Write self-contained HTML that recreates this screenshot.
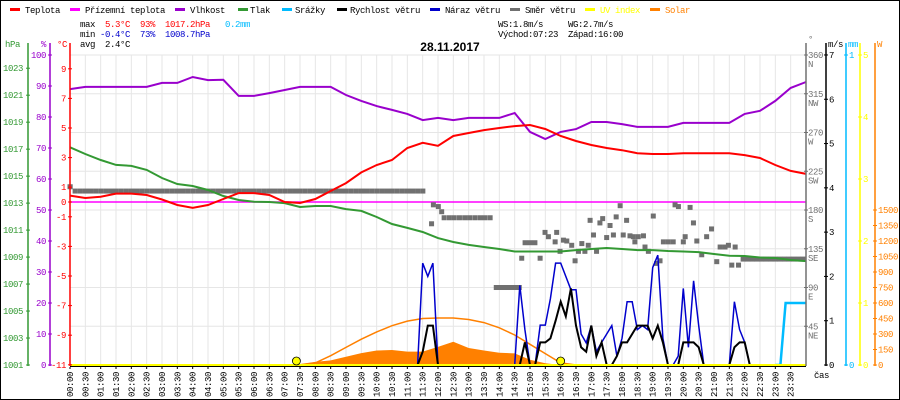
<!DOCTYPE html>
<html><head><meta charset="utf-8">
<style>
html,body{margin:0;padding:0;background:#fff;}
#wrap{position:relative;width:898px;height:398px;border:1px solid #000;overflow:hidden;}
svg{position:absolute;left:-1px;top:-1px;}
text{font-family:"Liberation Mono",monospace;font-size:9px;letter-spacing:-0.4px;}
</style></head><body>
<div id="wrap">
<svg id="chart" width="900" height="400" viewBox="0 0 900 400">
<g id="legend">
 <g><rect x="10" y="8" width="10" height="3" fill="#ff0000"/><text x="25" y="13">Teplota</text></g>
 <g><rect x="70" y="8" width="10" height="3" fill="#ff00ff"/><text x="85" y="13">Přízemní teplota</text></g>
 <g><rect x="175" y="8" width="10" height="3" fill="#9900cc"/><text x="190" y="13">Vlhkost</text></g>
 <g><rect x="238" y="8" width="10" height="3" fill="#339933"/><text x="250" y="13">Tlak</text></g>
 <g><rect x="282" y="8" width="10" height="3" fill="#00bbff"/><text x="295" y="13">Srážky</text></g>
 <g><rect x="337" y="8" width="10" height="3" fill="#000"/><text x="350" y="13">Rychlost větru</text></g>
 <g><rect x="430" y="8" width="10" height="3" fill="#0000cc"/><text x="445" y="13">Náraz větru</text></g>
 <g><rect x="510" y="8" width="10" height="3" fill="#707070"/><text x="525" y="13">Směr větru</text></g>
 <g><rect x="585" y="8" width="10" height="3" fill="#ffff00"/><text x="600" y="13" fill="#ffff00">UV index</text></g>
 <g><rect x="650" y="8" width="10" height="3" fill="#ff8000"/><text x="665" y="13" fill="#ff8000">Solar</text></g>
</g>
<g>
 <text x="80" y="27">max</text><text x="105" y="27" fill="#ff0000">5.3°C</text><text x="140" y="27" fill="#ff0000">93%</text><text x="165" y="27" fill="#ff0000">1017.2hPa</text><text x="225" y="27" fill="#00bbff">0.2mm</text>
 <text x="80" y="37">min</text><text x="100" y="37" fill="#0000cc">-0.4°C</text><text x="140" y="37" fill="#0000cc">73%</text><text x="165" y="37" fill="#0000cc">1008.7hPa</text>
 <text x="80" y="47">avg</text><text x="105" y="47">2.4°C</text>
 <text x="498" y="27">WS:1.8m/s</text><text x="568" y="27">WG:2.7m/s</text>
 <text x="498" y="37">Východ:07:23</text><text x="568" y="37">Západ:16:00</text>
</g>
<text x="450" y="51" text-anchor="middle" style="font-family:'Liberation Sans',sans-serif;font-size:12px;font-weight:bold;letter-spacing:0">28.11.2017</text>
<g id="grid"></g>
<g id="series"></g>
<g id="axes"></g>
</svg>
</div>
<script>
// ---- data (half-hour steps 00:00..24:00) ----
const hours = [0,0.5,1,1.5,2,2.5,3,3.5,4,4.5,5,5.5,6,6.5,7,7.5,8,8.5,9,9.5,10,10.5,11,11.5,12,12.5,13,13.5,14,14.5,15,15.5,16,16.5,17,17.5,18,18.5,19,19.5,20,20.5,21,21.5,22,22.5,23,23.5,24];
const temperature = [0.43,0.27,0.36,0.57,0.57,0.47,0.17,-0.2,-0.4,-0.2,0.2,0.6,0.6,0.47,0,-0.07,0.2,0.74,1.28,2.0,2.5,2.84,3.65,4.0,3.8,4.46,4.66,4.86,5.0,5.13,5.2,4.93,4.46,4.12,3.85,3.65,3.5,3.3,3.24,3.24,3.3,3.3,3.3,3.3,3.17,2.97,2.5,2.1,1.9];
const groundTemp = [0,0,0,0,0,0,0,0,0,0,0,0,0,0,0,0,0,0,0,0,0,0,0,0,0,0,0,0,0,0,0,0,0,0,0,0,0,0,0,0,0,0,0,0,0,0,0,0,0];
const humidity = [89,89.7,89.7,89.7,89.7,89.7,91,91,92.9,91.9,92,86.8,86.8,87.7,88.7,89.7,89.7,89.7,87.1,85.2,83.5,82.3,81,79,79.7,79,79.7,79.7,79.7,81.3,75.2,72.9,75.2,76.1,78.4,78.4,77.7,76.8,76.8,76.8,78.1,78.1,78.1,78.1,81,82,85.2,89.4,91.3];
const pressure = [1017.14,1016.64,1016.2,1015.83,1015.76,1015.46,1014.86,1014.42,1014.27,1013.97,1013.53,1013.23,1013.1,1013.08,1013.0,1012.71,1012.79,1012.79,1012.56,1012.42,1011.97,1011.45,1011.16,1010.86,1010.41,1010.12,1009.9,1009.75,1009.6,1009.41,1009.41,1009.41,1009.41,1009.52,1009.6,1009.67,1009.6,1009.52,1009.52,1009.45,1009.41,1009.37,1009.23,1009.1,1009.08,1008.97,1008.93,1008.78,1008.7];
const solarMeasured = [0,0,0,0,0,0,0,0,0,0,0,0,0,0,0,10,30,45,80,115,140,145,130,130,175,225,165,140,118,112,50,16,0,0,0,0,0,0,0,0,0,0,0,0,0,0,0,0,0];
const solarClearSky = [0,0,0,0,0,0,0,0,0,0,0,0,0,0,0,0,20,90,170,250,320,380,425,450,455,455,440,410,360,290,200,110,20,0,0,0,0,0,0,0,0,0,0,0,0,0,0,0,0];
const uvIndex = [0,0,0,0,0,0,0,0,0,0,0,0,0,0,0,0,0,0,0,0,0,0,0,0,0,0,0,0,0,0,0,0,0,0,0,0,0,0,0,0,0,0,0,0,0,0,0,0,0];
// ---- wind, 10-minute steps starting 11:00 ----
const windStartHour = 11;
const windSpeed = [0,0,0,0.3,0.89,0.89,0,0,0,0,0,0,0,0,0,0,0,0,0,0,0,0,0,0.51,0,0,0.51,0.51,0.6,1.0,1.43,1.1,1.73,0.89,0.4,0.3,0.89,0.2,0.51,0,0,0.2,0.51,0.51,0.7,0.89,0.89,0.89,0.6,0.89,0.51,0,0,0,0.51,0.51,0.51,0.4,0,0,0,0,0,0,0.4,0.51,0.51,0,0,0,0,0,0,0,0,0,0,0,0];
const windGust = [0,0,0,2.3,2.0,2.3,0,0,0,0,0,0,0,0,0,0,0,0,0,0,0,0,1.8,0.8,0,0,0.9,0.9,1.5,2.3,2.3,2.0,1.7,1.7,0.7,0.5,0.89,0.3,0.51,0.7,0.89,0.2,0.6,1.43,1.43,0.8,0.89,0.8,2.2,2.48,0.6,0,0,0.2,1.73,0.4,1.9,0.89,0,0,0,0,0,0,1.43,0.8,0.51,0,0,0,0,0,0,0,0,0,0,0,0];
// ---- rain, 10-minute steps starting 23:00 (mm) ----
const rainStartHour = 23;
const rain = [0,0,0.2,0.2,0.2,0.2,0.2];
// ---- wind direction (early calm period, 10-min steps from 00:00) ----
const dirEarly = [207,202,202,202,202,202,202,202,202,202,202,202,202,202,202,202,202,202,202,202,202,202,202,202,202,202,202,202,202,202,202,202,202,202,202,202,202,202,202,202,202,202,202,202,202,202,202,202,202,202,202,202,202,202,202,202,202,202,202,202,202,202,202,202,202,202,202,202,202,202];
const dirTimes = [11.79,11.85,12.01,12.12,12.2,12.37,12.53,12.7,12.87,13.03,13.2,13.37,13.53,13.7,13.9,14.05,14.2,14.35,14.5,14.65,14.73,14.84,15.0,15.16,15.33,15.49,15.6,15.82,15.87,15.98,16.09,16.2,16.36,16.47,16.58,16.69,16.79,16.9,16.96,17.07,17.17,17.28,17.37,17.5,17.61,17.72,17.81,17.94,18.04,18.15,18.26,18.37,18.42,18.53,18.7,18.75,18.86,19.02,19.13,19.24,19.35,19.51,19.67,19.73,19.84,20.0,20.06,20.22,20.33,20.44,20.6,20.76,20.92,21.09,21.2,21.36,21.47,21.58,21.69,21.8,21.95,22.1,22.25,22.4,22.55,22.7,22.85,23.0,23.15,23.3,23.45,23.6,23.75,23.9];
const dirValues = [164,186,184,178,171,171,171,171,171,171,171,171,171,171,90,90,90,90,90,90,124,142,142,142,124,154,149,143,154,132,145,144,139,121,132,141,132,139,168,151,132,165,170,148,162,151,172,185,151,168,150,149,143,149,150,137,132,173,118,121,143,143,143,186,184,143,149,183,165,144,128,149,158,120,137,137,139,116,137,116,123,123,123,123,123,123,123,123,123,123,123,123,123,123];
const sunEvents = [7.383, 16.0];
// ---- axis tick labels ----
const hpaTicks = [1001,1003,1005,1007,1009,1011,1013,1015,1017,1019,1021,1023];
const humTicks = [0,10,20,30,40,50,60,70,80,90,100];
const tempTicks = [-11,-9,-7,-5,-3,-1,0,1,3,5,7,9];
const dirTicks = [45,90,135,180,225,270,315,360];
const dirNames = ["NE","E","SE","S","SW","W","NW","N"];
const windTicks = [0,1,2,3,4,5,6,7];
const rainTicks = [0,1];
const uvTicks = [0,1,2,3,4,5];
const solarTicks = [0,150,300,450,600,750,900,1050,1200,1350,1500];

// ---- scales ----
const X0=70, X1=806, YT=55, YB=365;
const X = t => X0 + t*(X1-X0)/24;
const yT = v => 202 - v*14.8;
const yH = v => YB - v*3.1;
const yP = v => YB - (v-1001)*13.49;
const yD = v => YB - v*0.8611;
const yV = v => YB - v*44.29;
const yR = v => YB - v*310;
const yU = v => YB - v*62;
const yW = v => YB - v*0.10333;

const NS="http://www.w3.org/2000/svg";
function mk(tag, parent, attrs){const e=document.createElementNS(NS,tag);for(const k in attrs)e.setAttribute(k,attrs[k]);parent.appendChild(e);return e;}
const grid=document.getElementById('grid'), series=document.getElementById('series'), axes=document.getElementById('axes');

// grid
for(let i=0;i<=48;i++){const x=X(i/2);const l=mk('line',grid,{x1:x,x2:x,y1:YT,y2:YB,stroke:'#e6e6e6','stroke-width':1});

}
for(let i=0;i<=8;i++){const y=yD(i*45);const l=mk('line',grid,{x1:X0,x2:X1,y1:y,y2:y,stroke:'#e6e6e6','stroke-width':1});

}

function pts(ts, vs, ys){return vs.map((v,i)=>X(ts[i]).toFixed(1)+','+ys(v).toFixed(1)).join(' ');}
const windTimes = windSpeed.map((_,i)=>windStartHour+i/6);
const rainTimes = rain.map((_,i)=>rainStartHour+i/6);

// solar measured area
{const p='M'+X(hours[0])+','+YB+' L'+pts(hours,solarMeasured,yW).split(' ').join(' L')+' L'+X(24)+','+YB+' Z';
const a=mk('path',series,{d:p,fill:'#ff8000',stroke:'none'});

}
{const l=mk('polyline',series,{points:pts(hours,solarClearSky,yW),fill:'none',stroke:'#ff8000','stroke-width':1.5});

}
// ground temp
{const l=mk('polyline',series,{points:pts(hours,groundTemp,yT),fill:'none',stroke:'#ff00ff','stroke-width':1.5});

}
// direction
dirEarly.forEach((d,i)=>{const r=mk('rect',series,{x:X(i/6)-2.5,y:yD(d)-2.5,width:5.2,height:5,fill:'#707070'});

});
dirTimes.forEach((t,i)=>{const r=mk('rect',series,{x:X(t)-2.5,y:yD(dirValues[i])-2.5,width:5,height:5,fill:'#707070'});

});
// humidity, pressure, temperature
[[humidity,yH,'#9900cc','humidity-line'],[pressure,yP,'#339933','pressure-line'],[temperature,yT,'#ff0000','temperature-line']].forEach(s=>{
const l=mk('polyline',series,{points:pts(hours,s[0],s[1]),fill:'none',stroke:s[2],'stroke-width':2});

});
// gust & wind
{const l=mk('polyline',series,{points:pts(windTimes,windGust,yV),fill:'none',stroke:'#0000cc','stroke-width':1.5});

}
{const l=mk('polyline',series,{points:pts(windTimes,windSpeed,yV),fill:'none',stroke:'#000','stroke-width':2});

}
// rain
{const l=mk('polyline',series,{points:pts(rainTimes,rain,yR),fill:'none',stroke:'#00bbff','stroke-width':2.5});

}
// uv
{const l=mk('polyline',series,{points:pts(hours,uvIndex,yU),fill:'none',stroke:'#ffff00','stroke-width':2});

}
sunEvents.forEach(t=>{const c=mk('circle',series,{cx:X(t),cy:YB-4,r:4,fill:'#ffff00',stroke:'#000','stroke-width':0.8});

});

// axes
function vaxis(x,color,name){const l=mk('line',axes,{x1:x,x2:x,y1:YT-12,y2:YB+1,stroke:color,'stroke-width':1.5});

}
function txt(x,y,s,color,anchor,name){const t=mk('text',axes,{x:x,y:y,fill:color,'text-anchor':anchor||'start'});t.textContent=s;

return t;}
function tick(x,y,color,w){mk('line',axes,{x1:x-w,x2:x+w,y1:y,y2:y,stroke:color,'stroke-width':1});}
vaxis(28,'#339933','pressure-axis'); vaxis(50,'#9900cc','humidity-axis'); vaxis(X0,'#ff0000','temperature-axis');
vaxis(X1,'#707070','direction-axis'); vaxis(826,'#000','wind-axis'); vaxis(846,'#00bbff','rain-axis'); vaxis(860,'#ffff00','uv-axis'); vaxis(875,'#ff8000','solar-axis');
txt(5,47,'hPa','#339933','start','pressure-axis-title'); txt(41,47,'%','#9900cc','start','humidity-axis-title'); txt(57,47,'°C','#ff0000','start','temperature-axis-title');
txt(808,42,'°','#707070','start','direction-axis-title'); txt(828,47,'m/s','#000','start','wind-axis-title'); txt(848,47,'mm','#00bbff','start','rain-axis-title'); txt(877,47,'W','#ff8000','start','solar-axis-title');
hpaTicks.forEach(v=>{tick(28,yP(v),'#339933',2);txt(23,yP(v)+3,String(v),'#339933','end','pressure-tick-label');});
humTicks.forEach(v=>{tick(50,yH(v),'#9900cc',2);txt(46,yH(v)+3,String(v),'#9900cc','end','humidity-tick-label');});
tempTicks.forEach(v=>{tick(X0,yT(v),'#ff0000',2);txt(66,yT(v)+3,String(v),'#ff0000','end','temperature-tick-label');});
dirTicks.forEach((v,i)=>{tick(X1,yD(v),'#707070',2);txt(808,yD(v)+3,String(v),'#707070','start','direction-tick-label');txt(808,yD(v)+12,dirNames[i],'#707070','start','direction-name-label');});
windTicks.forEach(v=>{tick(826,yV(v),'#000',2);txt(829,yV(v)+3,String(v),'#000','start','wind-tick-label');});
rainTicks.forEach(v=>{tick(846,yR(v),'#00bbff',2);txt(849,yR(v)+3,String(v),'#00bbff','start','rain-tick-label');});
uvTicks.forEach(v=>{tick(860,yU(v),'#ffff00',2);txt(863,yU(v)+3,String(v),'#ffff00','start','uv-tick-label');});
solarTicks.forEach(v=>{tick(875,yW(v),'#ff8000',2);txt(878,yW(v)+3,String(v),'#ff8000','start','solar-tick-label');});
{const l=mk('line',axes,{x1:X0,x2:X1,y1:YB+1.5,y2:YB+1.5,stroke:'#000','stroke-width':1});

}
hours.slice(0,48).forEach(t=>{const x=X(t);mk('line',axes,{x1:x,x2:x,y1:YB+2,y2:YB+4,stroke:'#000','stroke-width':1});
const h=Math.floor(t), m=(t%1)?'30':'00';
const s=(h<10?'0':'')+h+':'+m;
const tt=mk('text',axes,{x:0,y:0,transform:'translate('+(x+3)+','+(YB+7)+') rotate(-90)','text-anchor':'end',fill:'#000'});
tt.textContent=s;

});
txt(814,378,'čas','#000','start','time-axis-title');
</script>
</body></html>
